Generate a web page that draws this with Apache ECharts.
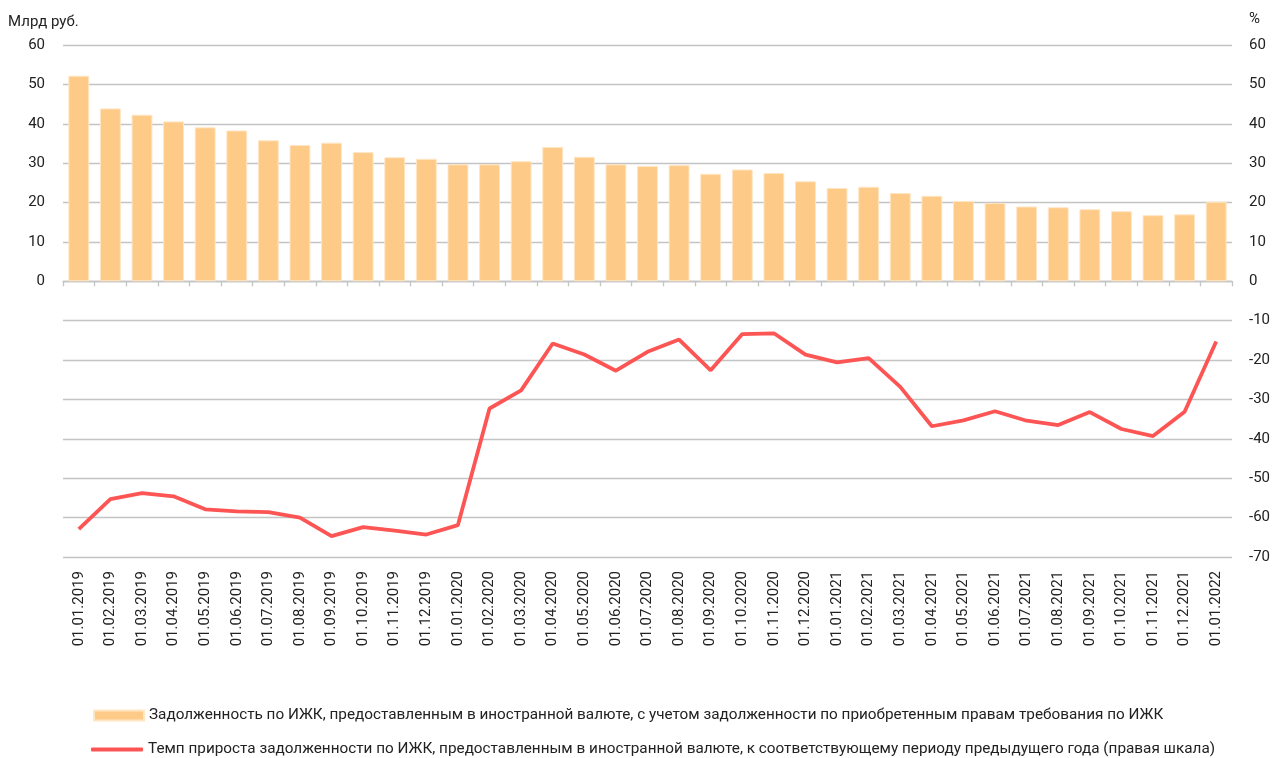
<!DOCTYPE html>
<html>
<head>
<meta charset="utf-8">
<script src="https://cdn.jsdelivr.net/npm/echarts@6/dist/echarts.min.js"></script>
<style>
  html, body { margin: 0; padding: 0; background: #fff; }
  #chart { width: 1279px; height: 758px; }
</style>
</head>
<body>
<div id="chart"></div>
<script>
const dates = [
  '01.01.2019', '01.02.2019', '01.03.2019', '01.04.2019', '01.05.2019', '01.06.2019',
  '01.07.2019', '01.08.2019', '01.09.2019', '01.10.2019', '01.11.2019', '01.12.2019',
  '01.01.2020', '01.02.2020', '01.03.2020', '01.04.2020', '01.05.2020', '01.06.2020',
  '01.07.2020', '01.08.2020', '01.09.2020', '01.10.2020', '01.11.2020', '01.12.2020',
  '01.01.2021', '01.02.2021', '01.03.2021', '01.04.2021', '01.05.2021', '01.06.2021',
  '01.07.2021', '01.08.2021', '01.09.2021', '01.10.2021', '01.11.2021', '01.12.2021',
  '01.01.2022'
];

// млрд руб.
const debtValues = [
  52.2, 43.9, 42.3, 40.6, 39.1, 38.3, 35.8, 34.6, 35.2, 32.8, 31.5, 31.1,
  29.7, 29.7, 30.5, 34.1, 31.6, 29.7, 29.3, 29.5, 27.3, 28.4, 27.5, 25.4,
  23.7, 24.0, 22.4, 21.7, 20.4, 19.9, 19.0, 18.8, 18.3, 17.8, 16.8, 17.0,
  20.2
];

// % г/г
const growthValues = [
  -62.9, -55.3, -53.8, -54.6, -57.9, -58.4, -58.6, -60.0, -64.7, -62.4, -63.3, -64.3,
  -61.9, -32.3, -27.7, -15.8, -18.6, -22.7, -17.9, -14.8, -22.6, -13.4, -13.2, -18.6,
  -20.6, -19.5, -26.8, -36.8, -35.3, -33.0, -35.4, -36.5, -33.2, -37.5, -39.3, -33.1,
  -15.3
];

const barName = 'Задолженность по ИЖК, предоставленным в иностранной валюте, с учетом задолженности по приобретенным правам требования по ИЖК';
const lineName = 'Темп прироста задолженности по ИЖК, предоставленным в иностранной валюте, к соответствующему периоду предыдущего года (правая шкала)';

const FONT = 'Roboto, "Noto Sans", sans-serif';
const TEXT_COLOR = '#222';
const GRID_COLOR = '#c4c4c4';

const chart = echarts.init(document.getElementById('chart'));

chart.setOption({
  animation: false,
  textStyle: { fontFamily: FONT },
  grid: { left: 63, right: 47, top: 45, bottom: 201, outerBoundsMode: 'none' },
  legend: [
    {
      data: [barName],
      left: 88, top: 703,
      icon: 'rect', itemWidth: 50, itemHeight: 10,
      textStyle: { fontSize: 15.3, color: TEXT_COLOR, fontFamily: FONT }
    },
    {
      data: [lineName],
      left: 86, top: 737,
      icon: 'roundRect', itemWidth: 52, itemHeight: 4,
      textStyle: { fontSize: 15.3, color: TEXT_COLOR, fontFamily: FONT }
    }
  ],
  graphic: [
    { type: 'text', left: 8, top: 15, style: { text: 'Млрд руб.', fontSize: 15, fill: TEXT_COLOR, fontFamily: FONT } },
    { type: 'text', left: 1249, top: 12, style: { text: '%', fontSize: 15, fill: TEXT_COLOR, fontFamily: FONT } }
  ],
  xAxis: [
    {
      // ось на нуле с рисками
      type: 'category',
      data: dates,
      position: 'top',
      boundaryGap: true,
      axisLine: { onZero: true, onZeroAxisIndex: 0, lineStyle: { color: GRID_COLOR, width: 1.3 } },
      axisTick: { show: true, inside: true, length: 5, interval: 0, lineStyle: { color: GRID_COLOR, width: 1.3 } },
      axisLabel: { show: false, interval: 0 },
      splitLine: { show: false }
    },
    {
      type: 'category',
      data: dates,
      position: 'bottom',
      boundaryGap: true,
      axisLine: { show: false, onZero: false },
      axisTick: { show: false },
      axisLabel: { rotate: 90, margin: 14, fontSize: 15, color: TEXT_COLOR, fontFamily: FONT, interval: 0 },
      splitLine: { show: false }
    }
  ],
  yAxis: [
    {
      type: 'value',
      min: -70, max: 60, interval: 10,
      axisLine: { show: false },
      axisTick: { show: false },
      axisLabel: {
        margin: 18, fontSize: 15, color: TEXT_COLOR, fontFamily: FONT,
        formatter: v => (v >= 0 ? String(v) : '')
      },
      splitLine: { show: true, lineStyle: { color: GRID_COLOR, width: 1.3 } }
    },
    {
      type: 'value',
      min: -70, max: 60, interval: 10,
      position: 'right',
      axisLine: { show: false },
      axisTick: { show: false },
      axisLabel: { margin: 17, fontSize: 15, color: TEXT_COLOR, fontFamily: FONT },
      splitLine: { show: false }
    }
  ],
  series: [
    {
      name: barName,
      type: 'bar',
      xAxisIndex: 0,
      yAxisIndex: 0,
      data: debtValues,
      barWidth: '66%',
      itemStyle: { color: '#fdca87', borderColor: '#ffe6c4', borderWidth: 1 }
    },
    {
      name: lineName,
      type: 'line',
      xAxisIndex: 0,
      yAxisIndex: 1,
      data: growthValues,
      showSymbol: false,
      symbol: 'none',
      lineStyle: { color: '#fd5454', width: 3.8 },
      itemStyle: { color: '#fd5454' },
      z: 5
    }
  ]
});
</script>
</body>
</html>
